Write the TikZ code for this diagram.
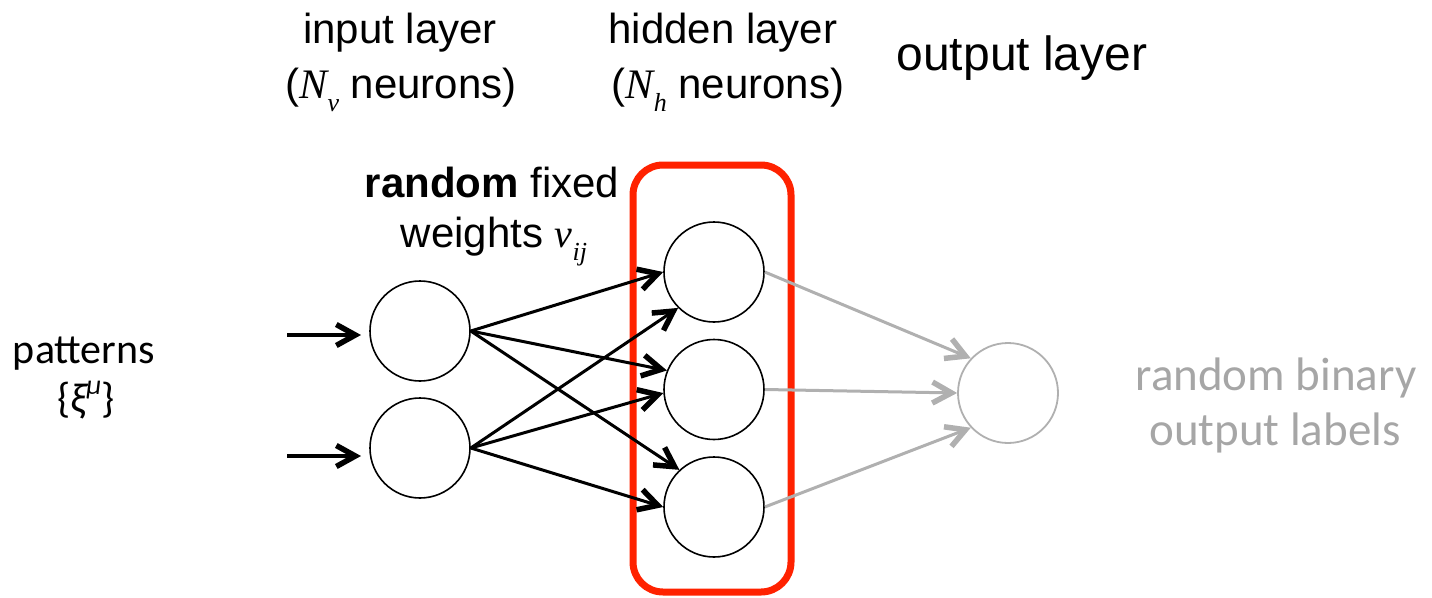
\documentclass[tikz,border=0pt]{standalone}
\usepackage{fontspec}
\setmainfont{Liberation Sans}
\newfontfamily\carl{Carlito}
\newfontfamily\tms{Liberation Serif}
\usetikzlibrary{arrows.meta}
\definecolor{boxred}{HTML}{FF2200}
\definecolor{fadegray}{HTML}{B0B0B0}
\definecolor{labelgray}{HTML}{A6A6A6}

% italic symbol with a lowered italic index
\newcommand{\idxsym}[3][42]{{\fontsize{#1}{#1}\selectfont\tms\itshape #2}\raisebox{-0.32em}{\fontsize{26}{26}\selectfont\tms\itshape #3}}

\begin{document}
\begin{tikzpicture}[x=1pt,y=-1pt,
  neuron/.style={circle,draw=black,line width=1.6pt,minimum size=100pt,inner sep=0pt,fill=white},
  outneuron/.style={circle,draw=fadegray,line width=1.8pt,minimum size=100pt,inner sep=0pt,fill=white},
  barb/.style={-{Straight Barb[length=19pt,width=21pt,line width=5.5pt 0 1]}},
  wire/.style={line width=3pt,barb},
  feed/.style={line width=3.2pt,barb},
  readout/.style={draw=fadegray,line width=3pt,barb},
  head/.style={font=\fontsize{42}{50}\selectfont,inner sep=0pt,anchor=base},
  side/.style={font=\carl\fontsize{42}{50}\selectfont,inner sep=0pt,anchor=base},
  glabel/.style={font=\carl\fontsize{47}{56}\selectfont,text=labelgray,inner sep=0pt,anchor=base}
]
\useasboundingbox (0,0) rectangle (1432,597);

% layer titles
\node[head] (inT1) at (400,43) {input layer};
\node[head] (inT2) at (401,98) {(\idxsym{N}{v} neurons)};
\node[head] (hidT1) at (723,43) {hidden layer};
\node[head] (hidT2) at (728,98) {(\idxsym{N}{h} neurons)};
\node[head,font=\fontsize{48}{56}\selectfont] (outT) at (1022,70) {output layer};

% weight caption
\node[head] (wT1) at (492,197) {\textbf{random} fixed};
\node[head] (wT2) at (494,247) {weights \idxsym[40]{v}{ij}};

% pattern caption
\node[side] (patT1) at (84,363) {patterns};
\node[side] (patT2) at (86,412) {\{{\itshape ξ}\raisebox{0.42em}{\fontsize{28}{28}\selectfont\itshape μ}\}};

% output caption
\node[glabel] (labT1) at (1276,390) {random binary};
\node[glabel] (labT2) at (1275,445) {output labels};

% hidden layer frame
\node[draw=boxred,line width=7pt,rounded corners=30pt,minimum width=158pt,minimum height=427pt,inner sep=0pt] (hbox) at (712,378.5) {};

% neurons
\node[neuron] (in1) at (420,331) {};
\node[neuron] (in2) at (420,448) {};
\node[neuron] (h1) at (714,272) {};
\node[neuron] (h2) at (714,389.5) {};
\node[neuron] (h3) at (714,507) {};
\node[outneuron] (out) at (1008,393) {};

% incoming patterns
\coordinate (src1) at (287,335);
\coordinate (src2) at (287,456);
\coordinate (tip1) at (361,335);
\coordinate (tip2) at (361,456);
\draw[feed] (src1) -- (tip1);
\draw[feed] (src2) -- (tip2);

% fixed random weights
\draw[wire] (in1.east) -- (h1.west);
\draw[wire] (in1.east) -- (h2.158);
\draw[wire] (in1.east) -- (h3.133);
\draw[wire] (in2.east) -- (h1.225);
\draw[wire] (in2.east) -- (h2.184);
\draw[wire] (in2.east) -- (h3.west);

% readout
\draw[readout] (h1.east) -- (out.137);
\draw[readout] (h2.east) -- (out.west);
\draw[readout] (h3.east) -- (out.223);
\end{tikzpicture}
\end{document}
